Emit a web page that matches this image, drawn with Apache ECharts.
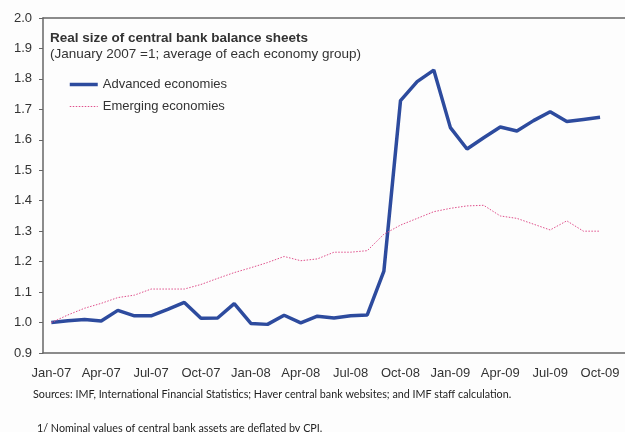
<!DOCTYPE html>
<html>
<head>
<meta charset="utf-8">
<script src="https://cdn.jsdelivr.net/npm/echarts@6/dist/echarts.min.js"></script>
<style>
html,body{margin:0;padding:0;background:#fdfdfd;}
#chart{width:625px;height:432px;}
</style>
</head>
<body>
<div id="chart"></div>
<script>
var months = ['Jan-07','Feb-07','Mar-07','Apr-07','May-07','Jun-07','Jul-07','Aug-07','Sep-07','Oct-07','Nov-07','Dec-07',
  'Jan-08','Feb-08','Mar-08','Apr-08','May-08','Jun-08','Jul-08','Aug-08','Sep-08','Oct-08','Nov-08','Dec-08',
  'Jan-09','Feb-09','Mar-09','Apr-09','May-09','Jun-09','Jul-09','Aug-09','Sep-09','Oct-09','Nov-09'];
var advanced = [1.000,1.006,1.010,1.005,1.040,1.022,1.022,1.043,1.066,1.014,1.015,1.062,
  0.997,0.994,1.024,0.999,1.021,1.015,1.022,1.025,1.169,1.729,1.791,1.829,
  1.640,1.570,1.607,1.642,1.629,1.663,1.692,1.660,1.667,1.674,null];
var emerging = [1.000,1.025,1.047,1.063,1.082,1.090,1.110,1.110,1.110,1.125,1.145,1.164,
  1.180,1.197,1.217,1.203,1.209,1.231,1.231,1.236,1.290,1.320,1.342,1.364,
  1.375,1.383,1.385,1.350,1.342,1.323,1.304,1.334,1.300,1.300,null];
var seriesNames = ['Advanced economies','Emerging economies'];
var titleText = 'Real size of central bank balance sheets';
var subtitleText = '(January 2007 =1; average of each economy group)';
var sourceText = 'Sources: IMF, International Financial Statistics; Haver central bank websites; and IMF staff calculation.';
var noteText = '1/ Nominal values of central bank assets are deflated by CPI.';

var chart = echarts.init(document.getElementById('chart'));
var font = '"Liberation Sans", Arial, sans-serif';
chart.setOption({
  backgroundColor: '#fdfdfd',
  animation: false,
  title: {
    text: titleText,
    subtext: subtitleText,
    left: 45, top: 26,
    itemGap: 2,
    textStyle: {fontFamily: font, fontSize: 13.5, fontWeight: 'bold', color: '#333'},
    subtextStyle: {fontFamily: font, fontSize: 13.5, color: '#333'}
  },
  legend: {
    orient: 'vertical',
    left: 63, top: 73,
    itemWidth: 28, itemHeight: 10, itemGap: 9,
    itemStyle: {color: 'transparent', borderColor: 'transparent', borderWidth: 0, opacity: 0},
    textStyle: {fontFamily: font, fontSize: 13, color: '#333'},
    data: [
      {name: seriesNames[0], lineStyle: {width: 3.5, color: '#2d4b9e'}},
      {name: seriesNames[1], lineStyle: {width: 1, color: '#e0508c', type: [1.5, 1.5]}}
    ]
  },
  grid: {left: 43, right: 0, top: 18, bottom: 79, containLabel: false},
  xAxis: [{
    type: 'category',
    data: months,
    boundaryGap: true,
    axisLine: {lineStyle: {color: '#666', width: 1.5}},
    axisTick: {inside: true, length: 5, interval: 2, lineStyle: {color: '#666'}},
    axisLabel: {interval: 2, margin: 14, fontFamily: font, fontSize: 13, color: '#333'},
    splitLine: {show: false}
  }, {
    type: 'category',
    data: months,
    position: 'top',
    axisLine: {lineStyle: {color: '#666', width: 1.5}},
    axisTick: {show: false},
    axisLabel: {show: false}
  }],
  yAxis: {
    type: 'value',
    min: 0.9, max: 2.0, interval: 0.1,
    axisLine: {show: true, lineStyle: {color: '#666', width: 1.5}},
    axisTick: {show: true, length: 4, lineStyle: {color: '#666'}},
    axisLabel: {margin: 11, fontFamily: font, fontSize: 13, color: '#333',
      formatter: function (v) { return v.toFixed(1); }},
    splitLine: {show: false}
  },
  series: [{
    name: seriesNames[0],
    type: 'line',
    data: advanced,
    symbol: 'none',
    lineStyle: {color: '#2d4b9e', width: 3.5},
    itemStyle: {color: '#2d4b9e'}
  }, {
    name: seriesNames[1],
    type: 'line',
    data: emerging,
    symbol: 'none',
    lineStyle: {color: '#e0508c', width: 1, type: [1.5, 1.5]},
    itemStyle: {color: '#e0508c'}
  }],
  graphic: [{
    type: 'text', left: 33, top: 389,
    style: {text: sourceText, fontFamily: 'Lato, sans-serif', fontSize: 10.75, fill: '#222'}
  }, {
    type: 'text', left: 37, top: 423,
    style: {text: noteText, fontFamily: 'Lato, sans-serif', fontSize: 10.75, fill: '#222'}
  }]
});
</script>
</body>
</html>
